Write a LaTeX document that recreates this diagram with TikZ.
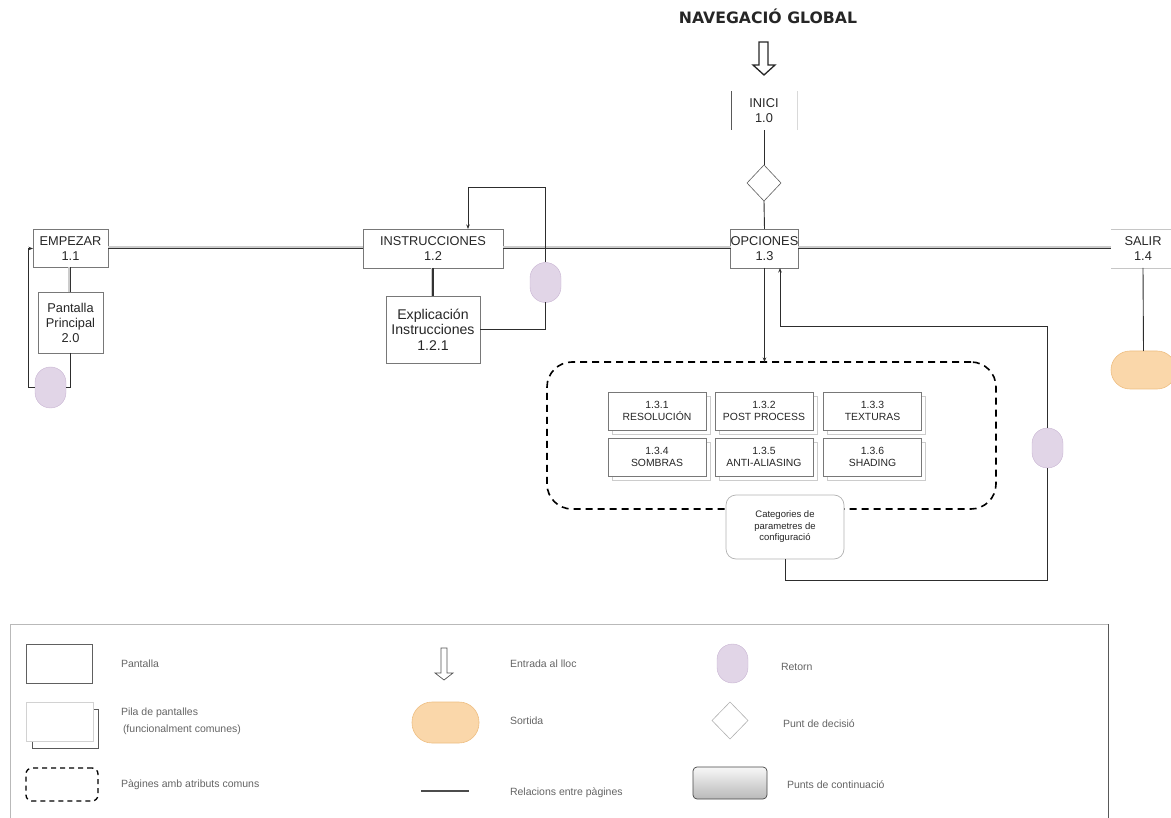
\documentclass[tikz,border=0pt]{standalone}
\usepackage{fontspec}
\setmainfont{Liberation Sans}
\newfontfamily\titlefont{DejaVu Sans}
\usetikzlibrary{arrows.meta,shapes.geometric}

\definecolor{retornfill}{RGB}{225,213,231}
\definecolor{retorndraw}{RGB}{200,180,210}
\definecolor{sortidafill}{RGB}{250,215,170}
\definecolor{sortidadraw}{RGB}{238,190,130}
\definecolor{linkcol}{RGB}{45,45,45}
\definecolor{boxcol}{RGB}{120,120,120}
\definecolor{legtextcol}{RGB}{100,100,100}

\begin{document}
\begin{tikzpicture}[x=1pt,y=-1pt,
  every node/.style={inner sep=0pt, outer sep=0pt},
  screen/.style={draw=boxcol, fill=white, line width=0.8pt, align=center,
    text=black!85, font=\fontsize{12.8}{15}\selectfont},
  subscreen/.style={draw=boxcol, fill=white, line width=0.8pt, align=center,
    text=black!85, minimum width=98, minimum height=38,
    font=\fontsize{10.4}{12}\selectfont},
  backscreen/.style={draw=gray!40, fill=white, line width=0.8pt,
    minimum width=98, minimum height=38},
  retorn/.style={fill=retornfill, draw=retorndraw, line width=0.4pt,
    rounded corners=15.5pt, minimum width=31, minimum height=41},
  sortida/.style={fill=sortidafill, draw=sortidadraw, line width=0.6pt,
    rounded corners=19pt, minimum width=65, minimum height=38},
  decision/.style={diamond, draw=gray!75!black, fill=white, line width=0.6pt,
    minimum width=34, minimum height=36},
  link/.style={draw=linkcol, line width=0.9pt},
  tip/.style={-{Stealth[length=4.5pt,width=3.5pt]}},
  relshade/.style={draw=gray!40, line width=2pt},
  relcore/.style={draw=black!80, line width=1.3pt},
  legtext/.style={anchor=west, text=legtextcol, align=left,
    font=\fontsize{10.5}{17}\selectfont},
]
\useasboundingbox (0,0) rectangle (1171,818);

% ---------- title and entry arrow ----------
\node[font=\titlefont\bfseries\fontsize{15.7}{18}\selectfont, text=black!85] (title) at (768,16) {NAVEGACIÓ GLOBAL};
\draw[line width=1.3pt, line join=miter, draw=black!85]
  (759,42) -- (768,42) -- (768,65) -- (775,65) -- (764,75) -- (753,65) -- (759,65) -- cycle;

% ---------- start page ----------
\node[font=\fontsize{12.8}{15}\selectfont, align=center, text=black!85,
      minimum width=66, minimum height=39] (inici) at (764,111) {INICI\\1.0};
\draw[gray!70!black, line width=0.8pt] (inici.north west) -- (inici.south west);
\draw[gray!30, line width=0.8pt] (inici.north east) -- (inici.south east);
\node[decision] (dec) at (764,183) {};

% ---------- main screens ----------
\node[screen, minimum width=75, minimum height=38] (emp) at (70.5,248.5) {EMPEZAR\\1.1};
\node[screen, minimum width=140, minimum height=39] (ins) at (433,248.5) {INSTRUCCIONES\\1.2};
\node[screen, minimum width=65, minimum height=39] (opc) at (764.5,248.5) {OPCIONES\\1.3};
\node[font=\fontsize{12.8}{15}\selectfont, align=center, text=black!85,
      minimum width=64, minimum height=39] (salir) at (1143,248.5) {SALIR\\1.4};
\draw[gray!45, line width=0.8pt] (salir.north west) -- (salir.north east);
\draw[gray!45, line width=0.8pt] (salir.south west) -- (salir.south east);

\node[screen, minimum width=65, minimum height=61] (pp) at (70.5,322.5) {Pantalla\\Principal\\2.0};
\node[screen, minimum width=94, minimum height=67,
      font=\fontsize{14.1}{15.5}\selectfont] (expl) at (433,329.5) {Explicación\\Instrucciones\\1.2.1};

% ---------- return and exit markers ----------
\node[retorn] (r1) at (50.5,387.5) {};
\node[retorn, minimum height=40] (r2) at (545.5,282.5) {};
\node[retorn, minimum height=40] (r3) at (1047.5,448) {};
\node[sortida] (sort) at (1143.5,370) {};

% ---------- options group ----------
\node[draw=black, line width=1.6pt, dash pattern=on 7pt off 5pt, rounded corners=25pt,
      minimum width=449, minimum height=147] (grp) at (771.5,435.5) {};

\foreach \x/\y/\nm/\txt in {657/411/s1/{1.3.1\\RESOLUCIÓN},
                            764/411/s2/{1.3.2\\POST PROCESS},
                            872.5/411/s3/{1.3.3\\TEXTURAS},
                            657/457/s4/{1.3.4\\SOMBRAS},
                            764/457/s5/{1.3.5\\ANTI-ALIASING},
                            872.5/457/s6/{1.3.6\\SHADING}} {
  \node[backscreen] (\nm b) at (\x+4,\y+4) {};
  \node[subscreen] (\nm) at (\x,\y) {\txt};
}

\node[draw=gray!60, fill=white, line width=0.7pt, rounded corners=10pt, align=center,
      text=black!85, minimum width=118, minimum height=64,
      font=\fontsize{9.5}{11.5}\selectfont] (cat) at (785,527) {Categories de\\parametres de\\configuració};

% ---------- connectors ----------
% main navigation bar: light shade line just above a dark core line
\foreach \a/\b in {emp/ins, ins/opc, opc/salir} {
  \draw[relshade] ([yshift=1.3pt]\a.east) -- ([yshift=1.3pt]\b.west);
  \draw[relcore] (\a.east) -- (\b.west);
}
\foreach \a/\b in {emp/pp, ins/expl} {
  \draw[relshade] ([xshift=-1.3pt]\a.south) -- ([xshift=-1.3pt]\b.north);
  \draw[relcore] (\a.south) -- (\b.north);
}

\draw[link] (pp.south) -- (pp.south |- r1.east) -- (r1.east);
\draw[link, tip] (r1.west) -- ++(-7,0) |- (emp.west);

\draw[link] (expl.east) -| (r2.south);
\draw[link, tip] (r2.north) -- ++(0,-75) -| ([xshift=35pt]ins.north);

\draw[link] (inici.south) -- (dec.north);
\draw[link] (dec.south) -- (opc.north);
\draw[link, tip] (opc.south) -- (opc.south |- grp.north);
\draw[link] (salir.south) -- (sort.north);

\draw[link] (cat.south) -- ++(0,21) -| (r3.south);
\draw[link, tip] (r3.north) -- ++(0,-102) -| ([xshift=15.5pt]opc.south);

% ---------- legend ----------
\draw[gray!55, line width=0.8pt] (10,818) -- (10,624) -- (1108,624);
\draw[gray!70!black, line width=0.8pt] (1108,624) -- (1108,818);

\node[draw=gray!75!black, line width=0.7pt, minimum width=66, minimum height=39] (lscr) at (59,663.5) {};
\node[legtext] (tscr) at (121,664) {Pantalla};

\node[draw=gray!70!black, fill=white, line width=0.7pt, minimum width=66, minimum height=39] (lstackb) at (65,728.5) {};
\node[draw=gray!35, fill=white, line width=0.7pt, minimum width=67, minimum height=39] (lstack) at (59.5,721.5) {};
\node[legtext] (tstack) at (121,721) {Pila de pantalles\\\hspace{2pt}(funcionalment comunes)};

\node[draw=black, line width=1.3pt, dash pattern=on 5pt off 4pt, rounded corners=6pt,
      minimum width=72, minimum height=33] (lgrp) at (62,784.5) {};
\node[legtext] (tgrp) at (121,785) {Pàgines amb atributs comuns};

\draw[draw=gray!65!black, line width=0.7pt, line join=miter]
  (441,648) -- (447,648) -- (447,673) -- (453,673) -- (444,680) -- (435,673) -- (441,673) -- cycle;
\node[legtext] (tentry) at (510,664) {Entrada al lloc};

\node[sortida, minimum width=67, minimum height=41, rounded corners=20pt] (lsort) at (445.5,722.5) {};
\node[legtext] (tsort) at (510,721) {Sortida};

\coordinate (lrel1) at (421,791);
\coordinate (lrel2) at (469,791);
\draw[gray!60!black, line width=1.2pt] (lrel1) -- (lrel2);
\node[legtext] (trel) at (510,793) {Relacions entre pàgines};

\node[retorn, minimum height=39] (lret) at (732.5,663.5) {};
\node[legtext] (tret) at (781,667) {Retorn};

\node[decision, draw=gray!60, minimum width=36, minimum height=37] (ldec) at (730,720.5) {};
\node[legtext] (tdec) at (783,724) {Punt de decisió};

\node[draw=gray!55!black, line width=0.7pt, rounded corners=4pt, top color=gray!6,
      bottom color=gray!55, minimum width=74, minimum height=32] (lcont) at (730,783) {};
\node[legtext] (tcont) at (787,785) {Punts de continuació};

\end{tikzpicture}
\end{document}
